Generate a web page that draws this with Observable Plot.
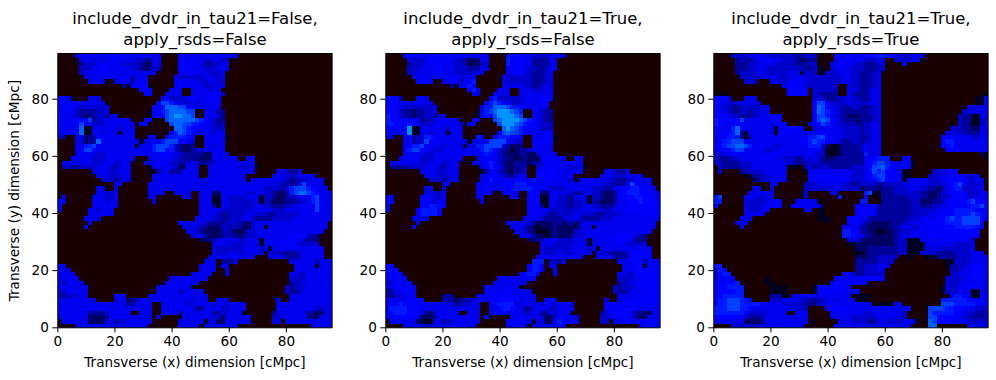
<!DOCTYPE html>
<html><head><meta charset="utf-8">
<script src="https://cdn.jsdelivr.net/npm/d3@7"></script>
<script src="https://cdn.jsdelivr.net/npm/@observablehq/plot@0.6"></script>
<style>
html,body{margin:0;padding:0;background:#fff;width:996px;height:380px;overflow:hidden}
#root{position:relative;width:996px;height:380px}
</style></head><body><div id="root"></div>
<script>
const titles=["include_dvdr_in_tau21=False,\napply_rsds=False","include_dvdr_in_tau21=True,\napply_rsds=False","include_dvdr_in_tau21=True,\napply_rsds=True"];
const xLabel="Transverse (x) dimension [cMpc]";
const yLabel="Transverse (y) dimension [cMpc]";
const tickValues=[0,20,40,60,80];
const levels=[".","0","1","2","3","4","5","6","7","8","9"];
const levelColors=["#1b0000","#000020","#000064","#00009a","#0000cc","#0000f0","#0000ff","#0018ff","#0040ff","#0064ff","#0094ff"];
const panelA=[
"....4444 44445555 44445544 ....4444 44444444 44",
".....444 34344544 44332244 ....5555 44334433",
".....233 34544443 33321144 ....5554 44223344",
".....333 44554444 43321233 ....5554 44333444",
".....344 45554444 4444444. ....4455 5443334.",
"......44 44445444 52444... ...43333 3344334.",
".......4 444..444 42555... ...45444 4334433.",
"........ .......2 055550.. ...45544 4433344.",
"........ ........ ...555.. ..444..4 444344..",
"........ ........ ....55.. .4444..4 4444543.",
"5550...4 44...... ........ 55333345 444555..",
"45554444 444..... .......5 77644334 344445..",
"45544334 3334.... ......55 58887755 544444..",
"44443222 2334.... .....055 67888877 ..44422.",
"54443212 233234.. .....055 47899887 ..54432.",
"54445557 23344444 4...55.. .7888888 7654322.",
"55445744 33344444 44.55... ..788776 6544323.",
"44444800 44444434 44...... ...88765 5444333.",
"44444800 44344404 44...... ..568765 5444345.",
"32..4412 25544444 44...55. .5666655 ..444540",
"....4312 28444444 44404455 67774443 ..44444.",
"....4466 74444444 44044567 77632112 ..44344.",
"....4577 54444444 44444467 75632112 3344444.",
"....4444 43344444 44444455 55443222 22114444",
"...44444 33344444 44...445 44433222 21114444 44..55..",
".4444444 33444334 4...4445 54332244 32233444 444444..",
".3322333 34443244 4....044 44431144 4..44444 4433340.",
"........ 44443344 4.....02 44222444 4..44444 444445.. ...44322 4",
"........ .4443334 4.....44 44444444 4..44444 4444.... ..444333 4444",
"........ ..333234 4.....44 54444444 44444444 44440444 44443322 334444..",
"........ .....44. .....444 44444444 44344444 44444444 44433222 474444..",
"........ .44..4.. .....444 44444444 44444444 44444444 33332367 7765544.",
"........ .44334.. .....444 4..4444. .4441144 44443344 33211267 88765444",
"04...... 444334.. .....44. .....44. .4440044 33334440 33211233 44467444",
"44...... 444344.. ......4. ........ .4440044 33333340 32111222 33467444",
"4....... 444444.. ........ ........ .4442044 33333344 33222334 44447444",
"4......4 43444... ........ ........ .4444433 33333444 44333444 44447444",
".......4 44444... ........ ........ .4444322 33334433 32233333 44444444",
"......44 44...... ........ ........ 44443322 33344322 22333334 44444444",
".......4 ........ ........ ....4444 44322223 33221344 44444444 4444444.",
"......4. ........ ........ .....444 42211133 23211344 04444444 4444444.",
"........ ........ ........ ......44 32111123 21113344 44444444 444444..",
"........ ........ ........ .......4 44211123 22123344 44444455 55322...",
"........ ........ ........ ........ .1122444 44334440 44445555 43222...",
"........ ........ ........ ........ ....4444 33334440 44444554 33334...",
"........ ........ ........ ........ ....4333 33344443 40444444 444444..",
"........ ........ ........ ........ ....4333 44334444 .4332222 344444..",
"........ ........ ........ ........ ...44444 444444.. .4444222 344444..",
"........ ........ ........ ........ ..444.22 24...... ......44 44442444",
"44...... ........ ........ ........ .4444.44 ........ .......4 44440444",
"444..... ........ ........ ........ .4444..4 ........ .......4 44444444",
"4444.... ........ ........ .......4 4444...4 ........ ......44 33444444",
"44444... ........ ........ ..444444 444..... ........ ......33 33444444",
"424444.. ........ ........ .4444444 4....... ........ ......23 34444444",
"4444444. ........ .......4 44444440 ........ ........ .....323 33444444",
"3344444. ........ .......4 44443344 44...... ........ .....322 34444444",
"2233344. .....444 .....444 44444444 444..... ........ ......44 44444444",
"44444444 4....344 12244444 44444443 444..444 ........ ...4..44 44444444",
"44444444 44444444 224444.. 44444434 44443443 4444.... ...44444 44444444",
"44444444 44444444 444444.. 44444444 22444433 4444.... ...44444 44443344",
"44444442 22234444 4..444.. 44442444 44442243 4440.... ..234444 44221144",
"44444441 11124444 444444.4 .....444 44443314 44444... ..334444 44211444",
"04444441 11144233 444444.. ....4444 44044114 44444... ..44.444 44444444",
"....4444 44444444 44444... ....4444 4.444444 44...... ........ ...44444"
];
const panelB=[
"....5555 44555555 44444444 ....5555 44333344 44",
".....433 34555444 33211144 ....6555 44222244",
".....233 34555444 33211133 ....6555 44222244",
".....333 44455444 33322244 ....5554 43322344",
".....334 44455444 3333344. ....4455 4322234.",
"......44 44445444 53445... ...43333 3322234.",
".......5 555..444 52556... ...43333 3322234.",
"........ .......2 05565... ...44444 3322344.",
"........ ........ ...565.. ..444..4 4433344.",
"........ ........ ....55.. .5444..5 4444444.",
"5552...5 54...... ........ 56333333 4444555.",
"55554445 544..... .......5 67644333 444455..",
"55443333 3334.... ......56 68887665 544444..",
"55432212 2334.... .....056 78999876 ..44322.",
"65432212 233234.. .....056 57999987 ..54322.",
"65544445 22334544 4...55.. .7899998 7654322.",
"66545655 33344444 44.55... ..799987 6544333.",
"55444900 44444434 44...... ...89876 5544333.",
"55445900 44344404 44...... ..578776 5444455.",
"43..4423 36644444 44...65. .5666555 ..444550",
"....4423 37454444 44404555 77774433 ..45555.",
"....5466 75444344 44043667 77732112 ..55444.",
"....5677 54433444 44444467 65322012 2344444.",
"....5544 43344444 44444456 55321112 21134444",
"...45544 33344444 44...345 54322111 21114555 55..55..",
".4444444 33444334 4...4445 65321122 21223555 555555..",
".2222333 34443244 4....044 65421122 3..35555 4433340.",
"........ 44443344 4.....02 55321122 3..45555 444445.. ...44322 4",
"........ .4443334 4.....44 55432234 4..55555 4444.... ..444333 4444",
"........ ..333234 4.....44 65444445 44655554 44330444 44443322 334444..",
"........ .....44. .....445 44445566 65544444 44444444 44433222 474444..",
"........ .44..4.. .....445 44445566 66544433 33444444 33322455 5665544.",
"........ .44334.. .....444 4..4445. .5551144 44332244 33211245 66655444",
"54...... 555334.. .....44. .....54. .5550044 33224440 33211245 55665544",
"54...... 555344.. ......4. ........ .5550044 33223340 32111244 55565555",
"5....... 556655.. ........ ........ .5542044 33223344 33222344 45555555",
"5......5 66665... ........ ........ .5554433 33333444 44333444 55555555",
".......5 66665... ........ ........ .5544322 33334433 32233334 44445555",
"......44 44...... ........ ........ 44443222 23344322 22333444 44444444",
".......4 ........ ........ ....4444 43211112 21221344 44444444 4444444.",
"......4. ........ ........ .....444 32101112 11111344 04444444 4444444.",
"........ ........ ........ ......44 32100012 11113344 44444444 444444..",
"........ ........ ........ .......4 44211012 11123344 44444455 55322...",
"........ ........ ........ ........ .1122444 33334440 44445555 44222...",
"........ ........ ........ ........ ....4443 33334440 44444454 33334...",
"........ ........ ........ ........ ....4333 33344443 40444444 444444..",
"........ ........ ........ ........ ....4333 43334444 .4332222 345544..",
"........ ........ ........ ........ ...55555 555555.. .4444222 345555..",
"........ ........ ........ ........ ..666.33 24...... ......44 44552555",
"55...... ........ ........ ........ .5665.44 ........ .......4 44550555",
"555..... ........ ........ ........ .5665..5 ........ .......4 44555555",
"5555.... ........ ........ .......4 5665...5 ........ ......44 33455555",
"45555... ........ ........ ..444444 555..... ........ ......33 33445555",
"335555.. ........ ........ .4444444 4....... ........ ......23 34455555",
"4455555. ........ .......4 44444440 ........ ........ .....323 33455555",
"2244555. ........ .......4 44445544 44...... ........ .....322 34445555",
"2233445. .....222 .....444 55555544 444..... ........ ......44 44555555",
"44444555 5....322 12233444 55555553 444..444 ........ ...4..44 45555555",
"55565555 54444444 223344.. 55666634 44443443 4444.... ...45555 55555555",
"56666555 44444444 444444.. 44566544 22444433 4445.... ...45555 55444455",
"55666555 42134444 4..444.. 44454444 33442243 4450.... ..234555 44221155",
"45555554 11124444 444444.4 .....444 44443113 55554... ..334445 44211455",
"04444441 10044233 444444.. ....5555 44044114 65554... ..33.445 54445555",
"....4444 33344444 44444... ....5555 4.444444 55...... ........ ...45555"
];
const panelC=[
"....3333 44553333 33322333 ....5555 54445566 55333344 4",
".....232 23445544 33321122 ....4455 44433344 ..333344",
".....222 33444433 33322233 ...44454 43322234 ....5",
".....222 33443333 33333223 00.34444 33322233",
".....233 33443333 34440433 00333444 3322234.",
"......33 33344443 33444433 33333344 3322234.",
".......3 33...443 34554433 33333344 3322234.",
"........ .......0 44554333 33333..4 3322234.",
"........ ........ .55555.3 33333..4 4322344.",
".00..... ........ .55555.3 32222..5 3222344. ........ ........ .......0",
"5554...4 44...... .......3 33222335 3322344. ........ ........ .....005",
"54433344 443..... .......4 77533334 4333444. ........ ........ .....005",
"54332233 33344... .......4 87544322 3322234. ........ ........ ...44445",
"54432233 23344... .......4 87644322 2222334. ........ ........ ..334445",
"55443322 23344455 .......4 77653321 1122234. ........ ........ .3220044",
"65555574 44444555 .......4 78754322 2122234. ........ ........ .3220033",
"65445555 44444445 5.....44 57644332 3223344. ........ .......0 .3220034",
"54446844 44444405 55555..3 44444433 3323344. ........ .......3 33221144",
"54456820 44444405 55554445 55554433 3323344. ........ ......44 33322244",
"44566620 24444444 44444466 77554433 3322344. ........ .....555 44443344",
"44667775 54444444 44445567 66444322 3323344. ........ .....566 44444455",
"55677887 64444433 44444566 63100122 2235344. ........ .....556 54444445",
"44556775 44443344 44444455 43000122 2235344. ........ ......55 55444445",
"33445544 44444544 44444454 33000122 2226344. ........ ........ ......10",
"32223344 44455444 33322534 32112222 22245566 6...55.. ........ .......0",
"33222233 34444444 43322233 32222222 22245677 6555550.",
".3222233 34444444 4000.332 33322222 33345778 6555550.",
".3....22 33344444 4....044 44444455 33345767 555500.. ...33445 5",
".......0 02233444 4.....55 55555555 33345677 555500.. ..333445 554334..",
"........ .1233444 4.....55 45555555 33344567 55550444 44333455 5553344.",
"........ .....44. .....333 44444433 22333322 33334444 44333345 6753334.",
"........ .44..4.. .....333 33334433 33122212 22333444 33221245 6633344.",
"........ 445444.. ....03.. ...44... ...67002 22333333 22112345 55533344",
"67.....4 443345.. ....03.. .....6.. ...5..02 22222333 22112335 55533444",
"66.....4 33334455 ...44444 0....... ..66...2 22222233 11122345 55567555",
"5......4 33344555 ..444444 40...... .5555422 22222233 22233445 55556675",
".......4 33344... .....44. 00...... .5555422 22222233 33334455 66666555",
".......4 4444.... ........ 00...... .5555422 22222233 33445555 66667655",
"......44 4....... ........ 000....5 55442222 22222333 45445567 66777755",
".....444 ........ ........ ..0....5 44422111 12223344 44555566 6677775.",
"......5. ........ ........ ......55 44221111 12234433 54555555 6666655.",
"........ ........ ........ ......66 55221100 11233344 54555555 555555..",
"........ ........ ........ ......66 54422111 11234444 44555555 555554..",
"........ ........ ........ .......4 33211111 11233000 44444555 44443...",
"........ ........ ........ .......0 01111111 11233000 03444444 33334...",
"........ ........ ........ ........ .1112222 22233000 03343333 33334...",
"........ ........ ........ ........ .0012222 22233.00 33332222 3333444.",
"........ ........ ........ ........ .1112233 333..0.. .0002222 23334444",
"........ ........ ........ ........ .2222233 33...... ......00 33334445",
"66...... ........ ........ ........ .2233344 4....... ......02 23344555",
"365..... ........ ........ ........ .2233344 ........ .......3 23445555",
"3566.... ........ ........ ......55 32233333 ........ .......3 34445555",
"35555... ....0... ........ ....5555 44555544 ........ ......33 33444555",
"455556.. ....00.. ........ ...55545 4443.... ........ ......33 33444444",
"4556666. .....000 0......0 55555555 ........ ........ .....033 34555555",
"4555566. .....000 0......0 55555544 44...... ........ .....033 34440044",
"4566666. .....222 0.444444 44454444 .0000... ........ .......5 66550055",
"56677766 5....333 44443322 33443444 4000.... ........ .....666 66655555",
"56677766 66654444 33333221 33444444 44444.00 0055.... .....777 66666555",
"66677766 54444444 444333.. ..555554 44444444 445555.. ..777766 55444333",
"66666665 33334444 4..444.. ...55554 44433444 44443... ..766666 55433223",
"55555553 22234444 444444.. ...44444 33333344 44443... ..775555 55332223",
"44444441 11124444 444444.0 .....444 33332244 33334440 ..875555 44433333",
"....3333 33344444 44444... ....5555 54444444 444444.. ..88.... ...55544"
];
function toCells(rows){
  return rows.flatMap(r=>Array.from(r.replace(/ /g,"").padEnd(64,".").slice(0,64)));
}
const lefts=[0,328.3,656.3];
const root=document.getElementById("root");
[panelA,panelB,panelC].forEach((rows,i)=>{
  const cells=toCells(rows);
  const chart=Plot.plot({
    width:336,height:380,marginLeft:57.3,marginRight:4.4,marginTop:53,marginBottom:52.7,
    style:{background:"transparent",fontFamily:"DejaVu Sans",overflow:"visible"},
    x:{domain:[0,96]},y:{domain:[0,96]},
    color:{type:"ordinal",domain:levels,range:levelColors},
    marks:[
      Plot.raster(cells,{width:64,height:64,x1:0,x2:96,y1:96,y2:0,fill:d=>d,imageRendering:"pixelated"}),
      Plot.frame({stroke:"#000",strokeWidth:1}),
      Plot.axisX({ticks:tickValues,tickSize:5,tickPadding:4,fontSize:13.6,stroke:"#000",fill:"#000",label:xLabel,labelAnchor:"center",labelArrow:"none",labelOffset:39,marginBottom:52.7,tickFormat:d=>String(d)}),
      Plot.axisY({ticks:tickValues,tickSize:5,tickPadding:4,fontSize:13.6,stroke:"#000",fill:"#000",label:i===0?yLabel:null,labelAnchor:"center",labelArrow:"none",labelOffset:48,marginLeft:57.3,tickFormat:i===0?(d=>String(d)):null}),
      Plot.text([titles[i]],{frameAnchor:"top",dy:-44,fontSize:16.5,lineHeight:1.27,fill:"#000",textAnchor:"middle",lineAnchor:"top"})
    ]
  });
  chart.style.left=lefts[i]+"px";
  chart.style.position="absolute";
  chart.style.top="0";
  root.appendChild(chart);
});
</script></body></html>
